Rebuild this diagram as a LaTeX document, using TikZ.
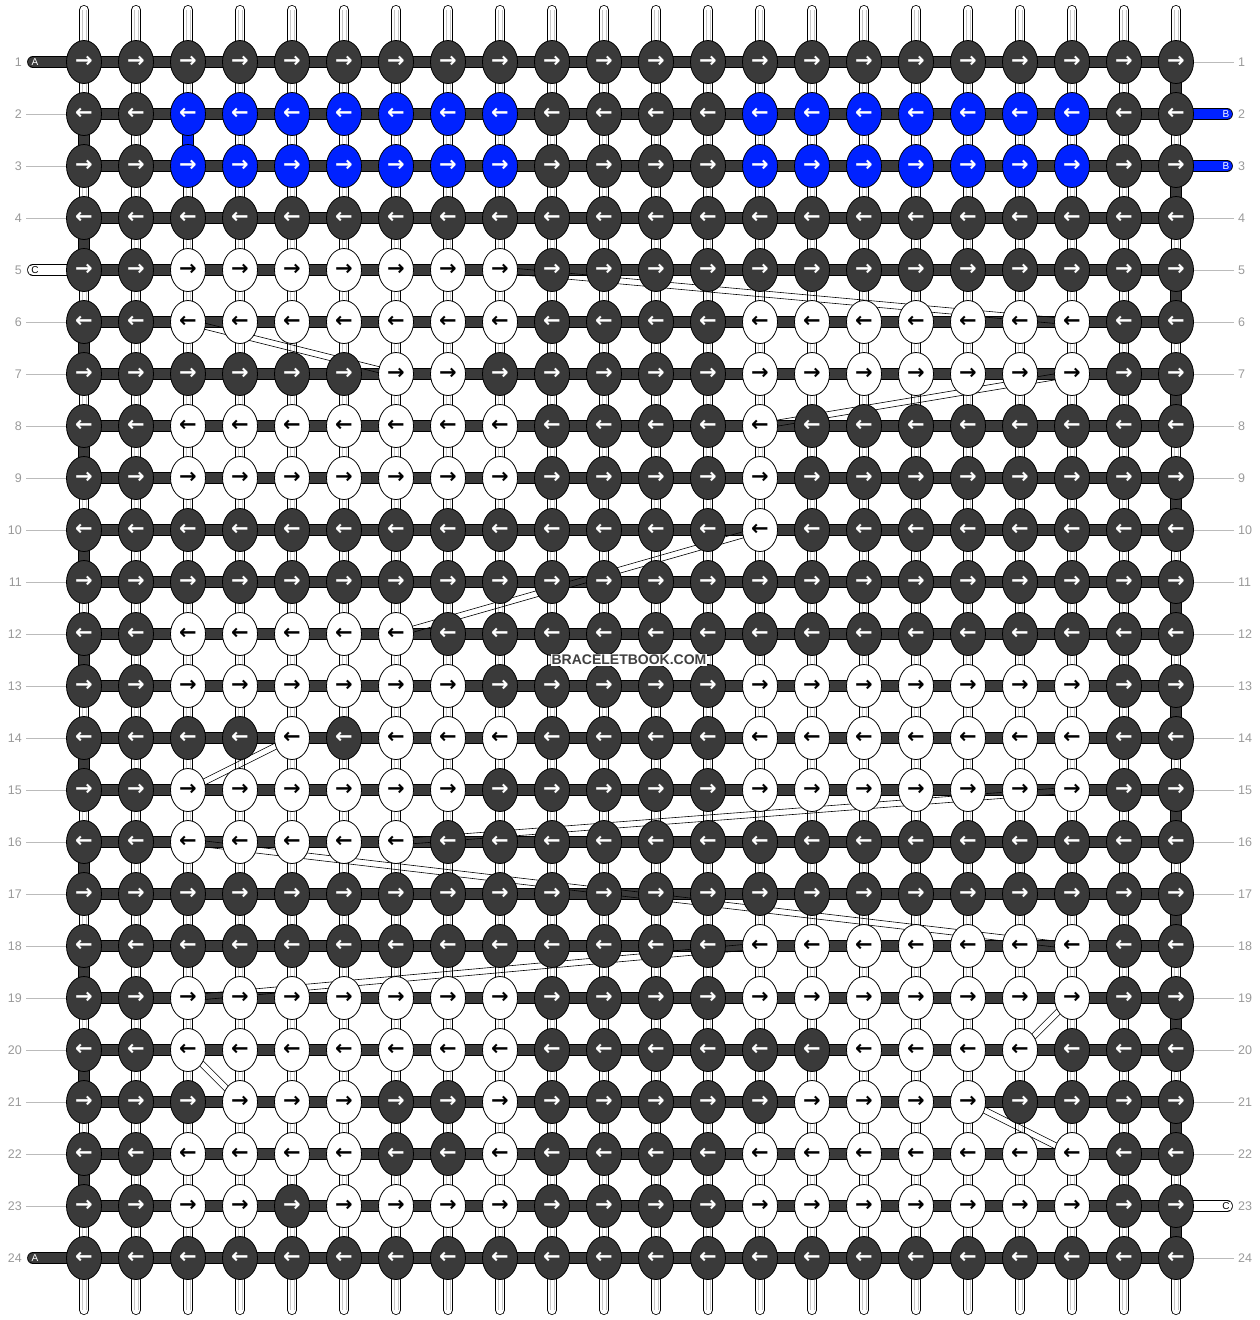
\documentclass[tikz,border=0pt]{standalone}
\usepackage{fontspec}
\setmainfont{Liberation Sans}
\newfontfamily\arrowfont{DejaVu Sans}
\usepackage{xstring}
\usetikzlibrary{shapes.geometric,calc}

\definecolor{knotfillD}{HTML}{3A3A3A}
\definecolor{knotfillW}{HTML}{FFFFFF}
\definecolor{knotfillB}{HTML}{0022FF}
\definecolor{knottextD}{HTML}{FFFFFF}
\definecolor{knottextW}{HTML}{000000}
\definecolor{knottextB}{HTML}{FFFFFF}
\definecolor{labelgray}{HTML}{999999}
\definecolor{tickgray}{HTML}{BBBBBB}

\tikzset{
  knot/.style={ellipse, draw=black, line width=0.8pt, minimum width=35pt, minimum height=43pt,
    inner sep=0pt, fill=knotfill#1, text=knottext#1, font=\arrowfont\bfseries\fontsize{21}{21}\selectfont},
  warp/.style={draw=black, line width=0.8pt, double=white, double distance=8.4pt, line cap=round},
  warpline/.style={draw=black!22, line width=0.5pt},
  bar/.style={draw=black, line width=0.6pt, double=#1, double distance=10.5pt},
  bar/.default=knotfillD,
  stub/.style={draw=black, line width=0.6pt, double=#1, double distance=10.5pt, line cap=round},
  bandline/.style={draw=black, line width=0.6pt},
  rownum/.style={text=labelgray, inner sep=0pt, font=\fontsize{12.5}{12.5}\selectfont},
  tick/.style={draw=tickgray, line width=0.8pt},
  stubtext/.style={inner sep=0pt, font=\fontsize{10}{10}\selectfont}
}

\newcommand\band[2]{%
  \draw[bandline] ($(#1)!3pt!90:(#2)$) -- ($(#2)!3pt!-90:(#1)$);
  \draw[bandline] ($(#1)!3pt!-90:(#2)$) -- ($(#2)!3pt!90:(#1)$);}

\begin{document}
\begin{tikzpicture}[x=1pt, y=-1pt]
\useasboundingbox (0,0) rectangle (1260,1320);

\foreach \r in {1,...,24}
  \foreach \c in {1,...,22}
    \coordinate (p-\r-\c) at ({84+52*(\c-1)}, {62+52*(\r-1)});

% vertical strings
\foreach \c in {1,...,22} {
  \coordinate (top-\c) at ({84+52*(\c-1)}, 10);
  \coordinate (bot-\c) at ({84+52*(\c-1)}, 1310);
  \draw[warp] (top-\c) -- (bot-\c);
  \draw[warpline] ([xshift=-2pt]top-\c) -- ([xshift=-2pt]bot-\c);
  \draw[warpline] ([xshift=2pt]top-\c) -- ([xshift=2pt]bot-\c);
}

% turns at the edges
\foreach \r [evaluate=\r as \s using int(\r+1)] in {2,4,...,22}
  \draw[bar] (p-\r-1) -- (p-\s-1);
\foreach \r [evaluate=\r as \s using int(\r+1)] in {1,3,...,23}
  \draw[bar] (p-\r-22) -- (p-\s-22);
\draw[bar=knotfillB] (p-2-3) -- (p-3-3);

% rows
\foreach \r in {1,...,24}
  \draw[bar] (p-\r-1) -- (p-\r-22);

% loose ends
\coordinate (endA1) at (33,62);
\coordinate (endC5) at (33,270);
\coordinate (endA24) at (33,1258);
\coordinate (endB2) at (1227,114);
\coordinate (endB3) at (1227,166);
\coordinate (endC23) at (1227,1206);
\draw[stub=knotfillD] (endA1) -- (p-1-1);
\draw[stub=white] (endC5) -- (p-5-1);
\draw[stub=knotfillD] (endA24) -- (p-24-1);
\draw[stub=knotfillB] (endB2) -- (p-2-22);
\draw[stub=knotfillB] (endB3) -- (p-3-22);
\draw[stub=white] (endC23) -- (p-23-22);
\node[stubtext, text=white] at ([xshift=2pt]endA1) {A};
\node[stubtext, text=black] at ([xshift=2pt]endC5) {C};
\node[stubtext, text=white] at ([xshift=2pt]endA24) {A};
\node[stubtext, text=white] at ([xshift=-1pt]endB2) {B};
\node[stubtext, text=white] at ([xshift=-1pt]endB3) {B};
\node[stubtext, text=black] at ([xshift=-1pt]endC23) {C};

% row numbers
\foreach \r in {1,...,24} {
  \node[rownum, anchor=east] (ln-\r) at (22, {62+52*(\r-1)}) {\r};
  \node[rownum, anchor=west] (rn-\r) at (1238, {62+52*(\r-1)}) {\r};
}
\foreach \r in {2,3,4,6,7,8,9,10,11,12,13,14,15,16,17,18,19,20,21,22,23}
  \draw[tick] ([xshift=4pt]ln-\r.east) -- (p-\r-1);
\foreach \r in {1,4,5,6,7,8,9,10,11,12,13,14,15,16,17,18,19,20,21,22,24}
  \draw[tick] (p-\r-22) -- ([xshift=-4pt]rn-\r.west);

% white string carried behind
\band{p-5-9}{p-6-20}
\band{p-6-3}{p-7-7}
\band{p-7-20}{p-8-14}
\band{p-10-14}{p-12-7}
\band{p-14-5}{p-15-3}
\band{p-15-20}{p-16-7}
\band{p-16-3}{p-18-20}
\band{p-18-14}{p-19-3}
\band{p-19-20}{p-20-19}
\band{p-20-3}{p-21-4}
\band{p-21-18}{p-22-20}

% knots
\foreach \r/\pat in {
  1/DDDDDDDDDDDDDDDDDDDDDD,
  2/DDBBBBBBBDDDDBBBBBBBDD,
  3/DDBBBBBBBDDDDBBBBBBBDD,
  4/DDDDDDDDDDDDDDDDDDDDDD,
  5/DDWWWWWWWDDDDDDDDDDDDD,
  6/DDWWWWWWWDDDDWWWWWWWDD,
  7/DDDDDDWWDDDDDWWWWWWWDD,
  8/DDWWWWWWWDDDDWDDDDDDDD,
  9/DDWWWWWWWDDDDWDDDDDDDD,
  10/DDDDDDDDDDDDDWDDDDDDDD,
  11/DDDDDDDDDDDDDDDDDDDDDD,
  12/DDWWWWWDDDDDDDDDDDDDDD,
  13/DDWWWWWWDDDDDWWWWWWWDD,
  14/DDDDWDWWWDDDDWWWWWWWDD,
  15/DDWWWWWWDDDDDWWWWWWWDD,
  16/DDWWWWWDDDDDDDDDDDDDDD,
  17/DDDDDDDDDDDDDDDDDDDDDD,
  18/DDDDDDDDDDDDDWWWWWWWDD,
  19/DDWWWWWWWDDDDWWWWWWWDD,
  20/DDWWWWWWWDDDDDDWWWWDDD,
  21/DDDWWWDDWDDDDDWWWWDDDD,
  22/DDWWWWDDWDDDDWWWWWWWDD,
  23/DDWWDWWWWDDDDWWWWWWWDD,
  24/DDDDDDDDDDDDDDDDDDDDDD} {
  \ifodd\r \def\arr{→}\else \def\arr{←}\fi
  \foreach \c in {1,...,22} {
    \StrChar{\pat}{\c}[\k]
    \node[knot=\k] (k-\r-\c) at (p-\r-\c) {\arr};
  }
}

\node[fill=white, text=black!75, inner sep=1pt, font=\bfseries\fontsize{14}{14}\selectfont] (mark) at (629,660) {BRACELETBOOK.COM};
\end{tikzpicture}
\end{document}
